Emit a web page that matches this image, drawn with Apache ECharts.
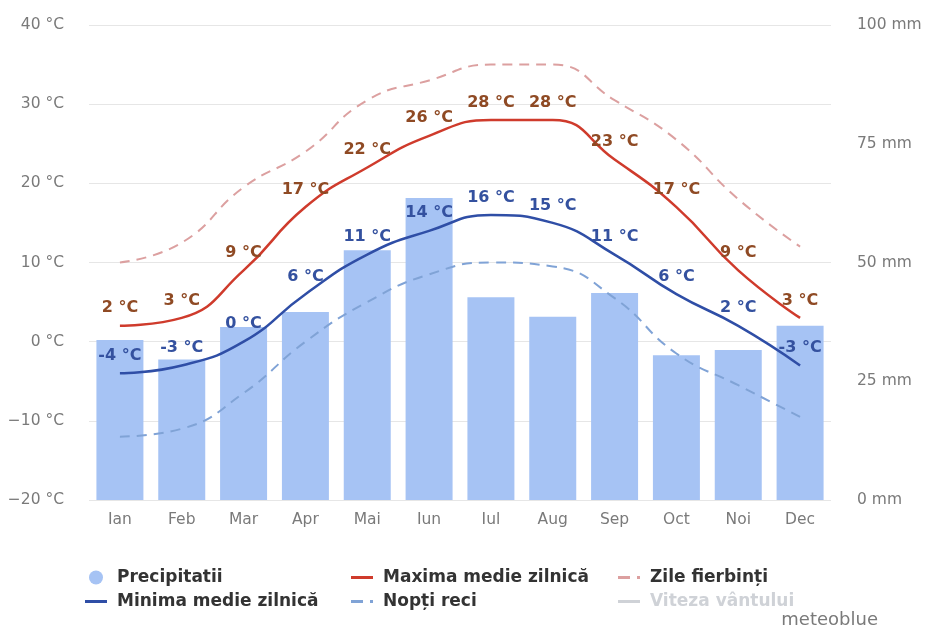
<!DOCTYPE html>
<html>
<head>
<meta charset="utf-8">
<script src="https://cdn.jsdelivr.net/npm/echarts@6/dist/echarts.min.js"></script>
<style>html,body{margin:0;padding:0;background:#fff}#c{width:925px;height:627px}</style>
</head>
<body>
<div id="c"></div>
<script>
const months = ['Ian','Feb','Mar','Apr','Mai','Iun','Iul','Aug','Sep','Oct','Noi','Dec'];
const precipitation = [33.7, 29.6, 36.4, 39.6, 52.6, 63.6, 42.7, 38.6, 43.6, 30.5, 31.6, 36.7];
const maxTemp = [2, 3, 9, 17, 22, 26, 28, 28, 23, 17, 9, 3];
const minTemp = [-4, -3, 0, 6, 11, 14, 16, 15, 11, 6, 2, -3];
const hotDays = [10, 12.5, 19.5, 24, 30.5, 33, 35, 35, 30.5, 25.5, 18, 12];
const coldNights = [-12, -11, -6.5, 0, 5, 8.5, 10, 9.5, 5.5, -1.5, -5.5, -9.5];
const windSpeed = [];
const tempTicks = {min: -20, max: 40, interval: 10};
const precTicks = {min: 0, max: 100, interval: 25};

const C = {
  bar: '#a6c3f4', max: '#cf3b2c', min: '#2f4ea6', hot: '#dca0a0', cold: '#80a3d6', wind: '#c8c8c8',
  maxLbl: '#8f4a24', minLbl: '#34519f'
};
const FONT = 'DejaVu Sans';
const chart = echarts.init(document.getElementById('c'), null, {renderer: 'canvas'});
const axisFont = {color: '#7a7a7a', fontSize: 15.5, fontFamily: FONT};
const legendText = {color: '#333', fontSize: 17, fontWeight: 'bold', fontFamily: FONT, padding: [0, 0, 0, 5]};
const solidIcon = 'path://M0,0H22V3H0Z';
const dashIcon = 'path://M0,0H12V3H0Z M19,0H22V3H19Z';
function labelSeries(name, data, color) {
  return {name: name + ' lbl', type: 'scatter', data: data, symbol: 'circle', symbolSize: 1, silent: true, z: 10,
    itemStyle: {color: 'rgba(0,0,0,0)', opacity: 1},
    label: {show: true, position: 'top', distance: 9, color: color, opacity: 1, fontSize: 16, fontWeight: 'bold',
      fontFamily: FONT, formatter: p => p.value + ' °C'}};
}
chart.setOption({
  animation: false,
  grid: {left: 89, right: 94, top: 25, bottom: 127},
  xAxis: {type: 'category', data: months, axisLine: {show: false}, axisTick: {show: false},
    axisLabel: Object.assign({margin: 12}, axisFont)},
  yAxis: [
    {type: 'value', min: tempTicks.min, max: tempTicks.max, interval: tempTicks.interval,
      axisLabel: Object.assign({margin: 25, formatter: v => String(v).replace('-', '−') + ' °C'}, axisFont),
      splitLine: {lineStyle: {color: '#e6e6e6'}}},
    {type: 'value', min: precTicks.min, max: precTicks.max, interval: precTicks.interval, position: 'right',
      axisLabel: Object.assign({margin: 26, formatter: v => v + ' mm'}, axisFont),
      splitLine: {show: false}}
  ],
  legend: [
    {left: 80, top: 564, orient: 'vertical', itemWidth: 22, itemHeight: 14, itemGap: 7, textStyle: legendText,
      data: [{name: 'Precipitatii', icon: 'circle'}, {name: 'Minima medie zilnică', icon: solidIcon}]},
    {left: 346, top: 564, orient: 'vertical', itemWidth: 22, itemHeight: 14, itemGap: 7, textStyle: legendText,
      data: [{name: 'Maxima medie zilnică', icon: solidIcon}, {name: 'Nopți reci', icon: dashIcon}]},
    {left: 613, top: 564, orient: 'vertical', itemWidth: 22, itemHeight: 14, itemGap: 7, textStyle: legendText,
      data: [{name: 'Zile fierbinți', icon: dashIcon}, {name: 'Viteza vântului', icon: solidIcon}],
      selected: {'Viteza vântului': false}}
  ],
  graphic: [{type: 'text', right: 47, top: 611,
    style: {text: 'meteoblue', fill: '#7a7a7a', fontSize: 18, fontFamily: FONT}}],
  series: [
    {name: 'Precipitatii', type: 'bar', yAxisIndex: 1, data: precipitation, barCategoryGap: '24%',
      itemStyle: {color: C.bar}, z: 1},
    {name: 'Maxima medie zilnică', type: 'line', data: maxTemp, smooth: 0.5, symbol: 'none',
      lineStyle: {color: C.max, width: 2.5}, itemStyle: {color: C.max}, z: 5},
    {name: 'Minima medie zilnică', type: 'line', data: minTemp, smooth: 0.5, symbol: 'none',
      lineStyle: {color: C.min, width: 2.5}, itemStyle: {color: C.min}, z: 5},
    {name: 'Zile fierbinți', type: 'line', data: hotDays, smooth: 0.5, symbol: 'none',
      lineStyle: {color: C.hot, width: 2, type: [10, 7]}, itemStyle: {color: C.hot}, z: 3},
    {name: 'Nopți reci', type: 'line', data: coldNights, smooth: 0.5, symbol: 'none',
      lineStyle: {color: C.cold, width: 2, type: [10, 7]}, itemStyle: {color: C.cold}, z: 3},
    {name: 'Viteza vântului', type: 'line', data: windSpeed, symbol: 'none',
      lineStyle: {color: C.wind, width: 2}, itemStyle: {color: C.wind}},
    labelSeries('Maxima medie zilnică', maxTemp, C.maxLbl),
    labelSeries('Minima medie zilnică', minTemp, C.minLbl)
  ]
});
</script>
</body>
</html>
